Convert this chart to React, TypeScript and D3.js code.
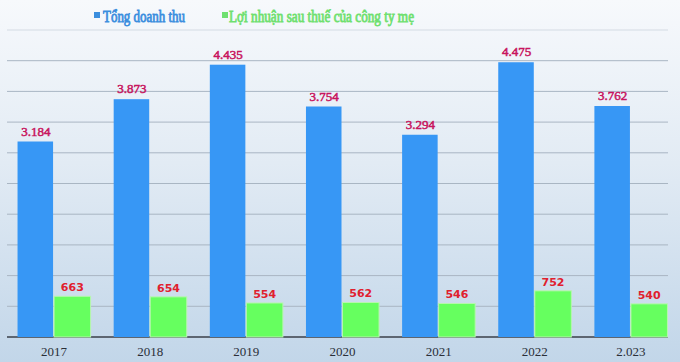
import React from 'react'
import * as d3 from 'd3'

const years = ['2017', '2018', '2019', '2020', '2021', '2022', '2.023']
const revenue = [3184, 3873, 4435, 3754, 3294, 4475, 3762]
const profit = [663, 654, 554, 562, 546, 752, 540]
const revenueLabels = ['3.184', '3.873', '4.435', '3.754', '3.294', '4.475', '3.762']
const seriesNames = ['Tổng doanh thu', 'Lợi nhuận sau thuế của công ty mẹ']
const gridTicks = d3.range(0, 5001, 500)

const W = 680
const H = 362
const plot = { left: 7, right: 668, top: 30, bottom: 337 }

const serif = 'Liberation Serif, Times New Roman, serif'
const sans = 'DejaVu Sans, Verdana, sans-serif'

export default function App() {
    const x0 = d3.scaleBand().domain(years).range([6, 679]).paddingInner(0.24).paddingOuter(0.12)
    const x1 = d3.scaleBand().domain(['rev', 'pro']).range([0, x0.bandwidth()])
    const y = d3.scaleLinear().domain([0, 5000]).range([plot.bottom, plot.top])

    return (
        <svg width={W} height={H} style={{ position: 'absolute', left: 0, top: 0 }}>
            <defs>
                <linearGradient id="bg" x1="0" y1="0" x2="0" y2="1">
                    <stop offset="0" stopColor="#f7f9fc" />
                    <stop offset="0.45" stopColor="#e2ebf4" />
                    <stop offset="1" stopColor="#c2d6e9" />
                </linearGradient>
            </defs>
            <rect width={W} height={H} fill="url(#bg)" />

            {/* legend, condensed serif */}
            <rect x={94} y={12} width={6} height={6} fill="#3b8ede" />
            <text x={103} y={22} style={{ fontFamily: serif, fontSize: 16 }} fill="#3b8ede"
                stroke="#3b8ede" strokeWidth={0.8} textLength={82} lengthAdjust="spacingAndGlyphs">{seriesNames[0]}</text>
            <rect x={222} y={12} width={6} height={6} fill="#6fe06f" />
            <text x={229} y={22} style={{ fontFamily: serif, fontSize: 16 }} fill="#6fe06f"
                stroke="#6fe06f" strokeWidth={0.8} textLength={185} lengthAdjust="spacingAndGlyphs">{seriesNames[1]}</text>

            {/* grid */}
            {gridTicks.map(t => (
                <line key={t} x1={plot.left} x2={plot.right} y1={y(t)} y2={y(t)}
                    stroke={t === 0 ? '#3a3f48' : t === 5000 ? '#d4dbe3' : '#a9b6c3'} strokeWidth={t === 0 ? 1.5 : 1} />
            ))}

            {years.map((yr, i) => {
                const bx = x0(yr) as number
                const cx = bx + (x1('rev') as number) + x1.bandwidth() / 2
                const gx = bx + (x1('pro') as number) + x1.bandwidth() / 2
                return (
                    <g key={yr}>
                        <rect x={bx + (x1('rev') as number)} y={y(revenue[i])} width={x1.bandwidth() - 1}
                            height={y(0) - y(revenue[i])} fill="#3797f5" />
                        <rect x={bx + (x1('pro') as number)} y={y(profit[i])} width={x1.bandwidth()}
                            height={y(0) - y(profit[i])} fill="#66ff5f" stroke="#b8f5b0" strokeWidth={1} />
                        <text x={cx} y={y(revenue[i]) - 6} textAnchor="middle" style={{ fontFamily: serif, fontSize: 13 }}
                            fill="#c8155e" stroke="#c8155e" strokeWidth={0.5}>{revenueLabels[i]}</text>
                        <text x={gx} y={y(profit[i]) - 5} textAnchor="middle"
                            style={{ fontFamily: sans, fontWeight: 700, fontSize: 11 }} fill="#e0202e">{profit[i]}</text>
                        <text x={bx + x0.bandwidth() / 2} y={356} textAnchor="middle"
                            style={{ fontFamily: serif, fontSize: 13 }} fill="#2a2f38">{yr}</text>
                    </g>
                )
            })}
        </svg>
    )
}
